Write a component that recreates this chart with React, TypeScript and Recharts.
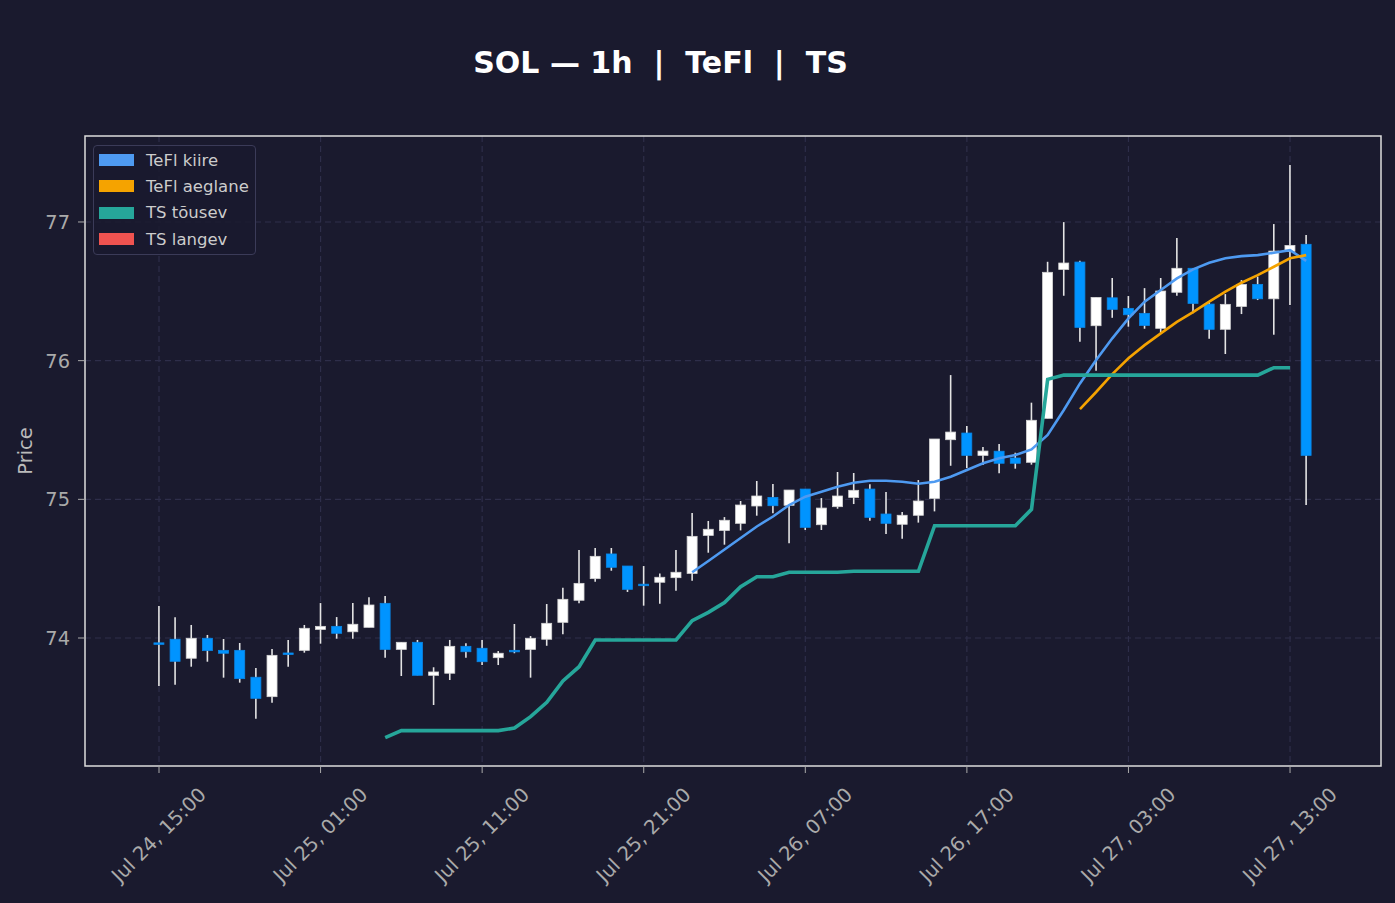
import {
  Bar,
  CartesianGrid,
  ComposedChart,
  Legend,
  Line,
  ReferenceArea,
  XAxis,
  YAxis,
} from "recharts";

// hourly candles, Jul 24 15:00 -> Jul 27 14:00
const opens = [
  73.965, 73.991, 73.854, 73.998, 73.911, 73.911, 73.717, 73.577, 73.892, 73.911,
  74.062, 74.084, 74.045, 74.077, 74.25, 73.918, 73.969, 73.731, 73.746, 73.94,
  73.926, 73.858, 73.911, 73.918, 73.991, 74.113, 74.272, 74.428, 74.606, 74.519,
  74.388, 74.402, 74.435, 74.466, 74.74, 74.776, 74.827, 74.952, 75.014, 74.957,
  75.074, 74.817, 74.947, 75.014, 75.074, 74.894, 74.82, 74.885, 75.007, 75.43,
  75.478, 75.317, 75.347, 75.298, 75.267, 75.584, 76.658, 76.711, 76.252, 76.453,
  76.377, 76.341, 76.233, 76.493, 76.666, 76.408, 76.226, 76.391, 76.55, 76.446,
  76.788, 76.839,
];
const highs = [
  74.231, 74.149, 74.094, 74.022, 73.993, 73.964, 73.784, 73.921, 73.986, 74.094,
  74.252, 74.151, 74.252, 74.293, 74.303, 73.969, 73.986, 73.789, 73.986, 73.962,
  73.986, 73.906, 74.101, 74.014, 74.245, 74.363, 74.634, 74.649, 74.649, 74.519,
  74.519, 74.466, 74.634, 74.901, 74.844, 74.872, 74.988, 75.132, 75.11, 75.067,
  75.074, 75.009, 75.197, 75.19, 75.108, 75.053, 74.908, 75.139, 75.435, 75.896,
  75.528, 75.377, 75.399, 75.336, 75.697, 76.713, 76.999, 76.72, 76.456, 76.596,
  76.466, 76.523, 76.596, 76.884, 76.666, 76.425, 76.48, 76.581, 76.606, 76.985,
  77.41, 76.906,
];
const lows = [
  73.654, 73.663, 73.793, 73.829, 73.714, 73.678, 73.418, 73.534, 73.793, 73.894,
  73.959, 73.995, 73.995, 74.077, 73.858, 73.726, 73.731, 73.517, 73.697, 73.858,
  73.805, 73.805, 73.89, 73.714, 73.944, 74.027, 74.25, 74.406, 74.485, 74.332,
  74.233, 74.247, 74.341, 74.413, 74.615, 74.673, 74.776, 74.882, 74.899, 74.683,
  74.779, 74.779, 74.932, 74.966, 74.846, 74.75, 74.716, 74.832, 74.913, 75.242,
  75.226, 75.247, 75.188, 75.221, 75.25, 75.584, 76.468, 76.136, 75.927, 76.309,
  76.245, 76.23, 76.194, 76.468, 76.341, 76.158, 76.048, 76.336, 76.437, 76.187,
  76.401, 74.959,
];
const closes = [
  73.958, 73.832, 73.998, 73.909, 73.89, 73.707, 73.565, 73.875, 73.882, 74.07,
  74.084, 74.034, 74.099, 74.238, 73.918, 73.969, 73.731, 73.755, 73.94, 73.901,
  73.829, 73.89, 73.901, 73.998, 74.106, 74.279, 74.394, 74.589, 74.51, 74.351,
  74.378, 74.438, 74.474, 74.733, 74.784, 74.849, 74.959, 75.024, 74.954, 75.067,
  74.798, 74.937, 75.024, 75.065, 74.87, 74.827, 74.885, 74.988, 75.435, 75.485,
  75.317, 75.348, 75.26, 75.26, 75.57, 76.637, 76.704, 76.24, 76.456, 76.37,
  76.331, 76.254, 76.502, 76.666, 76.413, 76.226, 76.406, 76.55, 76.446, 76.79,
  76.831, 75.317,
];

// TeFl fast line, from candle 33
const teflFastStart = 33;
const teflFast = [
  74.474, 74.555, 74.638, 74.721, 74.804, 74.876, 74.959, 75.019, 75.055, 75.091,
  75.12, 75.134, 75.134, 75.127, 75.112, 75.127, 75.163, 75.211, 75.26, 75.296,
  75.319, 75.36, 75.464, 75.644, 75.836, 76.004, 76.161, 76.305, 76.425, 76.509,
  76.593, 76.658, 76.706, 76.738, 76.754, 76.761, 76.778, 76.797, 76.72,
];

// TeFl slow line, from candle 57
const teflSlowStart = 57;
const teflSlow = [
  75.651, 75.774, 75.903, 76.017, 76.112, 76.197, 76.28, 76.35, 76.425, 76.497,
  76.562, 76.617, 76.677, 76.738, 76.761,
];

// trailing stop (rising), candles 14..70
const tsUpStart = 14;
const tsUp = [
  73.281, 73.332, 73.332, 73.332, 73.332, 73.332, 73.332, 73.332, 73.351, 73.433,
  73.536, 73.69, 73.793, 73.986, 73.986, 73.986, 73.986, 73.986, 73.986, 74.125,
  74.185, 74.255, 74.37, 74.442, 74.442, 74.474, 74.474, 74.474, 74.474, 74.481,
  74.481, 74.481, 74.481, 74.481, 74.81, 74.81, 74.81, 74.81, 74.81, 74.81,
  74.928, 75.865, 75.896, 75.896, 75.896, 75.896, 75.896, 75.896, 75.896, 75.896,
  75.896, 75.896, 75.896, 75.896, 75.896, 75.949, 75.949,
];

// trailing stop (falling) – no active segment in this window
const tsDown: number[] = [];

const seriesNames = ["TeFl kiire", "TeFl aeglane", "TS tõusev", "TS langev"];

const tickIndex = [0, 10, 20, 30, 40, 50, 60, 70];
const tickLabels = [
  "Jul 24, 15:00",
  "Jul 25, 01:00",
  "Jul 25, 11:00",
  "Jul 25, 21:00",
  "Jul 26, 07:00",
  "Jul 26, 17:00",
  "Jul 27, 03:00",
  "Jul 27, 13:00",
];
const priceTicks = [74, 75, 76, 77];

const xDomain: [number, number] = [-4.58, 75.63];
const yDomain: [number, number] = [73.077, 77.62];

const pick = (arr: number[], start: number, i: number) =>
  i >= start && i - start < arr.length ? arr[i - start] : null;

const rows = opens.map((open, i) => ({
  i,
  open,
  high: highs[i],
  low: lows[i],
  close: closes[i],
  fast: pick(teflFast, teflFastStart, i),
  slow: pick(teflSlow, teflSlowStart, i),
  tsUp: pick(tsUp, tsUpStart, i),
  tsDown: pick(tsDown, 0, i),
}));

const BG = "#1a1a2e";
const GRID = "#2e2e4a";
const TICK = "#aaaaaa";
const FONT = "DejaVu Sans";

function Candle(props: any) {
  const { x, y, width, height, payload } = props;
  const { open, close, high, low } = payload;
  const top = Math.min(y, y + height);
  const h = Math.abs(height);
  const span = high - low || 1e-9;
  const py = (v: number) => top + ((high - v) / span) * h;
  const up = close >= open;
  const cx = x + width / 2;
  const bodyTop = py(Math.max(open, close));
  const bodyH = Math.max(py(Math.min(open, close)) - bodyTop, 1.5);
  return (
    <g>
      <line x1={cx} x2={cx} y1={top} y2={top + h} stroke="#e4e4e4" strokeWidth={1.6} />
      <rect
        x={x}
        y={bodyTop}
        width={width}
        height={bodyH}
        fill={up ? "#ffffff" : "#0094ff"}
        stroke={up ? "#d4d4d4" : "#0a86e6"}
        strokeWidth={0.8}
      />
    </g>
  );
}

function DateTick({ x, y, payload }: any) {
  const label = tickLabels[tickIndex.indexOf(payload.value)];
  return (
    <g transform={`translate(${x},${y + 60})`}>
      <text
        transform="rotate(-45)"
        textAnchor="middle"
        dominantBaseline="central"
        fill={TICK}
        fontSize={19.6}
        fontFamily={FONT}
      >
        {label}
      </text>
    </g>
  );
}

function LegendBox({ payload }: any) {
  const entries = (payload ?? [])
    .filter((e: any) => seriesNames.includes(e.value))
    .sort((a: any, b: any) => seriesNames.indexOf(a.value) - seriesNames.indexOf(b.value));
  return (
    <div
      style={{
        border: "1px solid #3b3b58",
        borderRadius: 4,
        background: "rgba(26,26,46,0.85)",
        padding: "1px 0 2px 5px",
        boxSizing: "border-box",
        width: 163,
      }}
    >
      {entries.map((entry: any) => (
        <div
          key={entry.value}
          style={{ display: "flex", alignItems: "center", height: 26.3 }}
        >
          <span
            style={{
              display: "inline-block",
              width: 35,
              height: 12,
              background: entry.color,
              marginRight: 12,
            }}
          />
          <span style={{ color: "#cccccc", fontSize: 16.5, fontFamily: FONT }}>
            {entry.value}
          </span>
        </div>
      ))}
    </div>
  );
}

export default function App() {
  return (
    <div
      style={{
        position: "absolute",
        left: 0,
        top: 0,
        width: 1395,
        height: 903,
        background: BG,
        fontFamily: FONT,
      }}
    >
      <div
        style={{
          position: "absolute",
          left: 660.5,
          top: 48,
          transform: "translateX(-50%)",
          color: "#ffffff",
          fontWeight: "bold",
          fontSize: 30,
          lineHeight: "30px",
          whiteSpace: "pre",
        }}
      >
        {"SOL — 1h  |  TeFl  |  TS"}
      </div>
      <ComposedChart
        width={1395}
        height={903}
        data={rows}
        margin={{ top: 136, right: 14, bottom: 0, left: 0 }}
        style={{ fontFamily: FONT }}
      >
        <CartesianGrid
          stroke={GRID}
          strokeDasharray="6 4"
          strokeWidth={1.2}
          verticalValues={tickIndex}
          horizontalValues={priceTicks}
        />
        <XAxis
          dataKey="i"
          type="number"
          domain={xDomain}
          allowDataOverflow
          ticks={tickIndex}
          interval={0}
          height={137}
          axisLine={false}
          tickLine={{ stroke: TICK }}
          tickSize={7}
          tickMargin={2}
          tick={<DateTick />}
        />
        <YAxis
          type="number"
          domain={yDomain}
          allowDataOverflow
          ticks={priceTicks}
          width={85}
          axisLine={false}
          tickLine={{ stroke: TICK }}
          tickSize={7}
          tickMargin={8}
          tick={{ fill: TICK, fontSize: 19.4, fontFamily: FONT }}
          label={{
            value: "Price",
            angle: -90,
            position: "insideLeft",
            offset: 25,
            fill: "#bbbbbb",
            fontSize: 19.4,
            style: { textAnchor: "middle" },
          }}
        />
        <Bar
          dataKey={(d: any) => [d.low, d.high]}
          barSize={10}
          shape={<Candle />}
          legendType="none"
          isAnimationActive={false}
        />
        <Line
          dataKey="fast"
          name={seriesNames[0]}
          type="linear"
          stroke="#4e9af1"
          strokeWidth={2.6}
          dot={false}
          activeDot={false}
          isAnimationActive={false}
        />
        <Line
          dataKey="slow"
          name={seriesNames[1]}
          type="linear"
          stroke="#f5a300"
          strokeWidth={2.6}
          dot={false}
          activeDot={false}
          isAnimationActive={false}
        />
        <Line
          dataKey="tsUp"
          name={seriesNames[2]}
          type="linear"
          stroke="#26a69a"
          strokeWidth={3.6}
          dot={false}
          activeDot={false}
          isAnimationActive={false}
        />
        <Line
          dataKey="tsDown"
          name={seriesNames[3]}
          type="linear"
          stroke="#ef5350"
          strokeWidth={3.6}
          dot={false}
          activeDot={false}
          isAnimationActive={false}
        />
        <ReferenceArea
          x1={xDomain[0]}
          x2={xDomain[1]}
          y1={yDomain[0]}
          y2={yDomain[1]}
          fill="none"
          stroke="#dddddd"
          strokeWidth={1.5}
        />
        <Legend
          layout="vertical"
          align="center"
          verticalAlign="middle"
          wrapperStyle={{ left: 93, top: 145, width: 163 }}
          content={<LegendBox />}
        />
      </ComposedChart>
    </div>
  );
}
